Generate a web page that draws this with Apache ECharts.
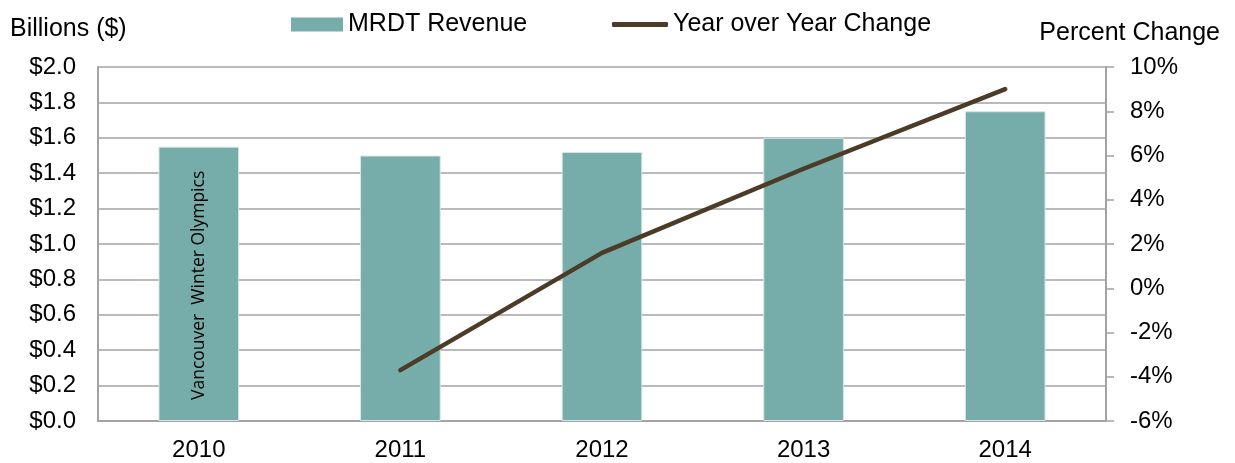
<!DOCTYPE html>
<html>
<head>
<meta charset="utf-8">
<script src="https://cdn.jsdelivr.net/npm/echarts@6/dist/echarts.min.js"></script>
<style>
  html, body { margin: 0; padding: 0; background: #fff; }
  #main { width: 1235px; height: 463px; }
</style>
</head>
<body>
<div id="main"></div>
<script>
// chart data
var years = ['2010', '2011', '2012', '2013', '2014'];
var revenue = [1.55, 1.50, 1.52, 1.60, 1.75];      // billions $
var yoyChange = [null, -3.7, 1.6, 5.4, 9.0];        // percent
var olympicsNote = 'Vancouver  Winter Olympics';

var FONT = '"Liberation Sans", Arial, sans-serif';
var GRID_GREY = '#a3a3a3';
var LINE_COL = '#4b3b27';

var myChart = echarts.init(document.getElementById('main'));

// first bar carries the rotated note
var barData = revenue.map(function(v, i){
	if (i == 0) {
		return {
			value: v,
			label: {
				show: true,
				formatter: olympicsNote,
				position: 'insideBottom',
				rotate: 90,
				align: 'left',
				verticalAlign: 'middle',
				distance: 21,
				fontFamily: '"Open Sans", sans-serif',
				fontSize: 17.5,
				color: '#000'
			}
		};
	}
	return v;
});

var option = {
	animation: false,
	title: [
		{ text: 'Billions ($)', left: 5, top: 12,
		  textStyle: { fontFamily: FONT, fontSize: 25, fontWeight: 'normal', color: '#000' } },
		{ text: 'Percent Change', right: 10, top: 16,
		  textStyle: { fontFamily: FONT, fontSize: 25, fontWeight: 'normal', color: '#000' } }
	],
	legend: [
		{
			data: [{ name: 'MRDT Revenue', icon: 'rect' }],
			left: 286, top: 7,
			itemWidth: 52, itemHeight: 14,
			itemStyle: { borderWidth: 0 },
			textStyle: { fontFamily: FONT, fontSize: 25, color: '#000' }
		},
		{
			data: [{ name: 'Year over Year Change', icon: 'roundRect' }],
			left: 607, top: 7,
			itemWidth: 56, itemHeight: 5,
			itemStyle: { color: LINE_COL, borderWidth: 0 },
			textStyle: { fontFamily: FONT, fontSize: 25, color: '#000' }
		}
	],
	grid: { left: 98, right: 129, top: 67, bottom: 42 },
	xAxis: {
		type: 'category',
		data: years,
		axisLine: { show: true, lineStyle: { color: GRID_GREY, width: 2 } },
		axisTick: { show: false },
		axisLabel: { fontFamily: FONT, fontSize: 24, color: '#000', margin: 17 }
	},
	yAxis: [
		{
			type: 'value',
			min: 0, max: 2, interval: 0.2,
			axisLine: { show: true, lineStyle: { color: GRID_GREY, width: 2 } },
			axisTick: { show: false },
			splitLine: { show: true, lineStyle: { color: GRID_GREY, width: 1.5 } },
			axisLabel: {
				fontFamily: FONT, fontSize: 24, color: '#000', margin: 22,
				formatter: function(v){ return '$' + v.toFixed(1); }
			}
		},
		{
			type: 'value',
			position: 'right',
			min: -6, max: 10, interval: 2,
			axisLine: { show: true, lineStyle: { color: GRID_GREY, width: 2 } },
			axisTick: { show: true, inside: false, length: 8, lineStyle: { color: GRID_GREY, width: 1.5 } },
			splitLine: { show: false },
			axisLabel: {
				fontFamily: FONT, fontSize: 24, color: '#000', margin: 24,
				formatter: function(v){ return v + '%'; }
			}
		}
	],
	series: [
		{
			name: 'MRDT Revenue',
			type: 'bar',
			barWidth: '40%',
			data: barData,
			itemStyle: { color: '#76aca9', borderColor: '#d8e6e5', borderWidth: 1 }
		},
		{
			name: 'Year over Year Change',
			type: 'line',
			yAxisIndex: 1,
			data: yoyChange,
			symbol: 'none',
			connectNulls: false,
			itemStyle: { color: LINE_COL },
			lineStyle: { color: LINE_COL, width: 4.5, cap: 'round', join: 'round' }
		}
	]
};

myChart.setOption(option);
</script>
</body>
</html>
